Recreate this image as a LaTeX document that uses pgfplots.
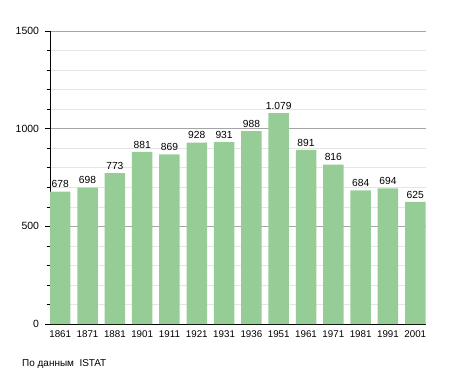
\documentclass[border=0pt]{standalone}
\usepackage{pgfplots}
\pgfplotsset{compat=1.18}
\usepackage{pgfplotstable}
\usepackage{fontspec}
\setmainfont{Liberation Sans}
\definecolor{barg}{RGB}{150,205,150}
\pgfplotstableread{
x y label
0 678 678
1 698 698
2 773 773
3 881 881
4 869 869
5 928 928
6 931 931
7 988 988
8 1079 1.079
9 891 891
10 816 816
11 684 684
12 694 694
13 625 625
}\popdata
\begin{document}
\fontsize{10}{12}\selectfont
\begin{tikzpicture}[x=1bp,y=1bp]
\useasboundingbox (0,0) rectangle (455,373);
\begin{axis}[at={(50bp,49bp)}, anchor=south west, scale only axis,
  width=375.5bp, height=293bp,
  xmin=-0.375, xmax=13.375, ymin=0, ymax=1500,
  axis x line*=bottom, axis y line*=left,
  axis line style={-, black, line width=0.8pt},
  ybar, bar width=0.75,
  xtick=data,
  xticklabels={1861,1871,1881,1901,1911,1921,1931,1936,1951,1961,1971,1981,1991,2001},
  x tick style={draw=none},
  xticklabel style={font=\fontsize{9.8}{11}\selectfont, yshift=2bp},
  ytick={0,500,1000,1500},
  yticklabels={0,500,1000,1500},
  yticklabel style={font=\fontsize{10.5}{12}\selectfont, xshift=-2.5bp},
  minor y tick num=4,
  y tick style={black, line width=0.6pt},
  tick align=outside,
  major tick length=5bp, minor tick length=3.5bp,
  ymajorgrids, yminorgrids,
  major grid style={draw=black!35, line width=0.6pt},
  minor grid style={draw=black!10, line width=0.6pt},
  nodes near coords,
  point meta=explicit symbolic,
  every node near coord/.append style={font=\fontsize{10.3}{12}\selectfont, inner sep=1bp, yshift=2.5bp},
]
\addplot[fill=barg, draw=none] table[x=x, y=y, meta=label] {\popdata};
\end{axis}
\node[anchor=base west, inner sep=0pt] at (22,7) {По данным\ \ ISTAT};
\end{tikzpicture}
\end{document}
